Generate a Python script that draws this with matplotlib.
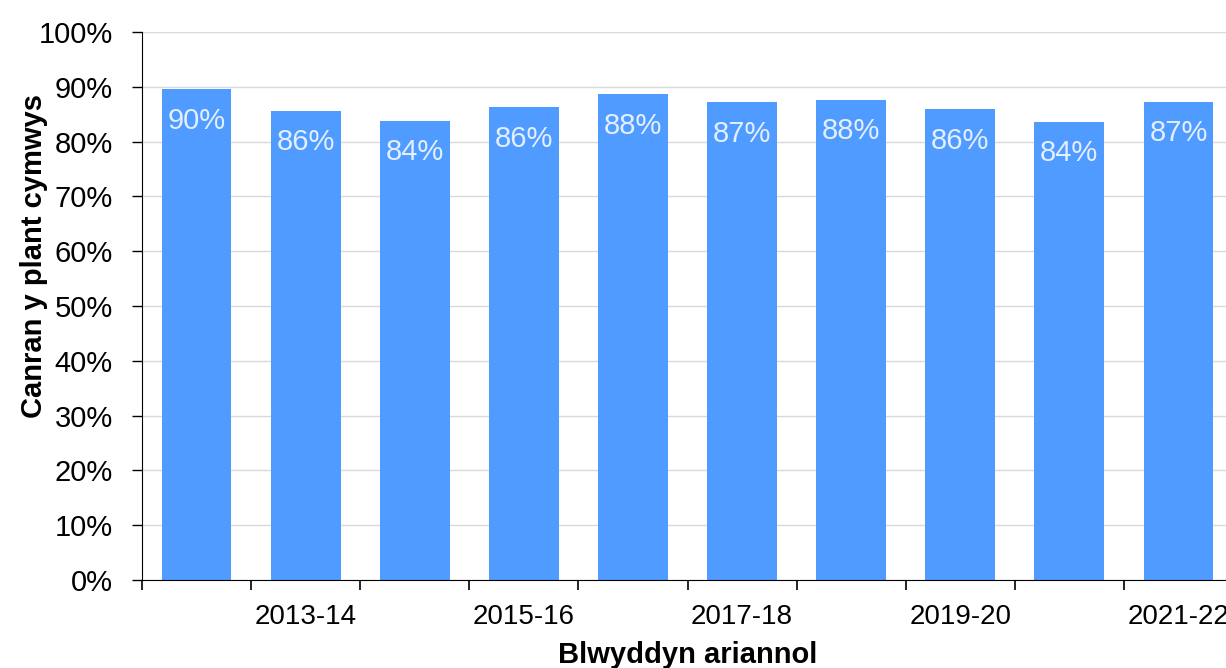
import matplotlib
matplotlib.use("Agg")
import matplotlib.pyplot as plt
import numpy as np

years = ["2012-13", "2013-14", "2014-15", "2015-16", "2016-17",
         "2017-18", "2018-19", "2019-20", "2020-21", "2021-22"]
values = [89.6, 85.6, 83.8, 86.3, 88.6, 87.2, 87.6, 85.9, 83.6, 87.3]
labels = ["90%", "86%", "84%", "86%", "88%", "87%", "88%", "86%", "84%", "87%"]

plt.rcParams['font.family'] = ['Liberation Sans', 'DejaVu Sans']

fig = plt.figure(figsize=(12.26, 6.68), dpi=100)
ax = fig.add_axes([142/1226, 1-580/668, (1233-142)/1226, (580-32)/668])

x = np.arange(len(years))
bars = ax.bar(x, values, width=0.64, color="#4F9BFF", zorder=2)
for xi, v, lab in zip(x, values, labels):
    ax.text(xi, v - 3.2, lab, ha="center", va="top", color="#E3EEFF",
            fontsize=21, zorder=3)

ax.set_xlim(-0.5, len(years) - 0.5)
ax.set_ylim(0, 100)
ax.set_yticks(np.arange(0, 101, 10))
ax.set_yticklabels([f"{t}%" for t in range(0, 101, 10)], fontsize=21)
ax.yaxis.grid(True, color="#D9D9D9", linewidth=1, zorder=0)
ax.set_axisbelow(True)

ax.set_xticks(x[1::2])
ax.set_xticklabels(years[1::2], fontsize=20)
ax.tick_params(axis="x", which="major", length=0, pad=17)
ax.set_xticks(np.arange(-0.5, len(years), 1), minor=True)
ax.tick_params(axis="x", which="minor", length=7, width=1.2, color="black")
ax.tick_params(axis="y", length=7, width=1, color="black", pad=14)

for s in ["top", "right"]:
    ax.spines[s].set_visible(False)
ax.spines["left"].set_color("black")
ax.spines["bottom"].set_color("black")

ax.set_xlabel("Blwyddyn ariannol", fontsize=21, fontweight="bold", labelpad=8)
ax.set_ylabel("Canran y plant cymwys", fontsize=21, fontweight="bold")
ax.yaxis.set_label_coords((48 - 142) / 1091, (580 - 256) / 548)

fig.savefig("out.png", dpi=100)
